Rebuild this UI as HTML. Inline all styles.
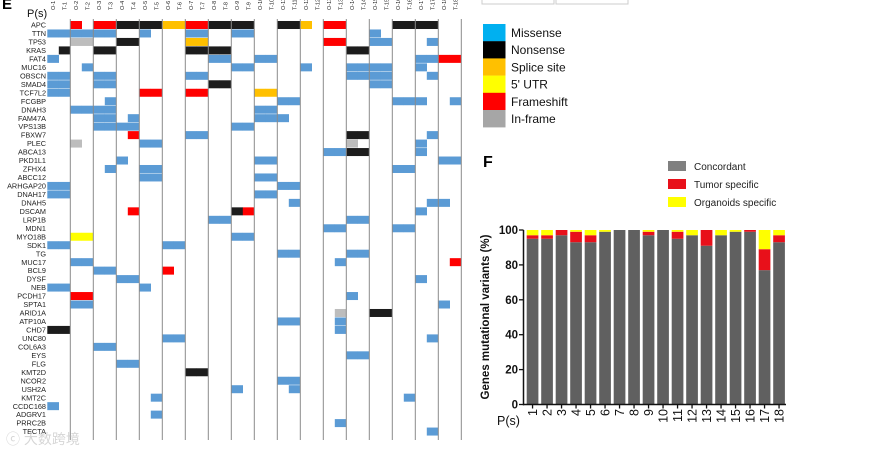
<!DOCTYPE html>
<html><head><meta charset="utf-8">
<style>
html,body{margin:0;padding:0;background:#fff;}
svg{display:block;font-family:"Liberation Sans",Arial,sans-serif;}
</style></head>
<body>
<svg id="fig" width="882" height="454" viewBox="0 0 882 454" xmlns="http://www.w3.org/2000/svg">
  <g id="panelE">
    <text x="2" y="9" font-size="15" font-weight="bold">E</text>
    <text x="27" y="17" font-size="11" fill="#111">P(s)</text>
  </g>
  <g id="legendE">
    <rect x="482" y="-1" width="72" height="5" fill="none" stroke="#ccc"/>
    <rect x="556" y="-1" width="72" height="5" fill="none" stroke="#ccc"/>
  </g>
  <g id="panelF">
    <text x="483" y="167" font-size="16" font-weight="bold">F</text>
  </g>
  <text x="6" y="444" font-size="14" fill="#bbb" opacity="0.6" font-family="'Liberation Sans','Noto Sans CJK SC',sans-serif">ⓒ 大数跨境</text>
</svg>
<script>
// ---------- Panel E data ----------
const genes = ["APC","TTN","TP53","KRAS","FAT4","MUC16","OBSCN","SMAD4","TCF7L2","FCGBP","DNAH3","FAM47A","VPS13B","FBXW7","PLEC","ABCA13","PKD1L1","ZFHX4","ABCC12","ARHGAP20","DNAH17","DNAH5","DSCAM","LRP1B","MDN1","MYO18B","SDK1","TG","MUC17","BCL9","DYSF","NEB","PCDH17","SPTA1","ARID1A","ATP10A","CHD7","UNC80","COL6A3","EYS","FLG","KMT2D","NCOR2","USH2A","KMT2C","CCDC168","ADGRV1","PRRC2B","TECTA"];
const sampleNums = [1,2,3,4,5,6,7,8,9,10,11,12,13,14,15,16,17,18];
// Mutations per gene: code + column range (column = 2*(sample-1) for O, +1 for T)
const mutations = [
"F2 F4-5 N6-9 S10-11 F12-13 N14-17 N20-21 S22 F24-25 N30-33",
"M0-5 M8 M12-13 M16-17 M28",
"I2-3 N6-7 S12-13 F24-25 M28-29 M33",
"N1 N4-5 N12-15 N26-27",
"M0 M14-15 M18-19 M32-33 F34-35",
"M3 M16-17 M22 M26-29 M32",
"M0-1 M4-5 M12-13 M26-29 M33",
"M0-1 M4-5 N14-15 M28-29",
"M0-1 F8-9 F12-13 S18-19",
"M5 M20-21 M30-32 M35",
"M2-5 M18-19",
"M4-5 M7 M18-20",
"M4-7 M16-17",
"F7 M12-13 N26-27 M33",
"I2 M8-9 I26 M32",
"M24-25 N26-27 M32",
"M6 M18-19 M34-35",
"M5 M8-9 M30-31",
"M8-9 M18-19",
"M0-1 M20-21",
"M0-1 M18-19",
"M21 M33-34",
"F7 N16 F17 M32",
"M14-15 M26-27",
"M24-25 M30-31",
"U2-3 M16-17",
"M0-1 M10-11",
"M20-21 M26-27",
"M2-3 M25 F35",
"M4-5 F10",
"M6-7 M32",
"M0-1 M8",
"F2-3 M26",
"M2-3 M34",
"I25 N28-29",
"M20-21 M25",
"N0-1 M25",
"M10-11 M33",
"M4-5",
"M26-27",
"M6-7",
"N12-13",
"M20-21",
"M16 M21",
"M9 M31",
"M0",
"M9",
"M25",
"M33"
];
const legendTypes = ["Missense","Nonsense","Splice site","5' UTR","Frameshift","In-frame"];
const legendCodes = ["M","N","S","U","F","I"];

// ---------- Panel F data ----------
const barCats = ["1","2","3","4","5","6","7","8","9","10","11","12","13","14","15","16","17","18"];
const concordant = [95,95,97,93,93,99,100,100,97,100,95,97,91,97,99,99,77,93];
const tumorSpec  = [2,2,3,6,4,0,0,0,2,0,4,0,9,0,0,1,12,4];
const organoidSpec=[3,3,0,1,3,1,0,0,1,0,1,3,0,3,1,0,11,3];
const yTicks = [0,20,40,60,80,100];
const seriesNames = ["Concordant","Tumor specific","Organoids specific"];

const NS="http://www.w3.org/2000/svg";
const svg=document.getElementById('fig');
function mk(tag,attrs,parent,text){const e=document.createElementNS(NS,tag);for(const k in attrs)e.setAttribute(k,attrs[k]);if(text!==undefined)e.textContent=text;(parent||svg).appendChild(e);return e;}

const heatColors={M:"#5b9bd5",N:"#1c1c1c",S:"#ffc000",U:"#ffff00",F:"#ff0000",I:"#bdbdbd"};
const legColors={M:"#00b0f0",N:"#000000",S:"#ffc000",U:"#ffff00",F:"#ff0000",I:"#a6a6a6"};

// Heatmap axes
const gx0=47.3, colW=11.5, rowY0=25, rowH=8.47;
const colX=c=>gx0+c*colW;
const rowY=r=>rowY0+r*rowH;
const nCols=sampleNums.length*2;
const gE=document.getElementById('panelE');

// cells
mutations.forEach((s,r)=>{
  s.split(" ").forEach(tok=>{
    const code=tok[0];const rng=tok.slice(1).split("-").map(Number);
    const a=rng[0],b=rng.length>1?rng[1]:rng[0];
    for(let c=a;c<=b;c++){
      const el=mk('rect',{x:colX(c),y:rowY(r)-4,width:colW+0.2,height:8,fill:heatColors[code]},gE);
      
      
    }
  });
});
// vertical pair separators
for(let p=1;p<=sampleNums.length;p++){
  const l=mk('line',{x1:colX(2*p),x2:colX(2*p),y1:19,y2:440,stroke:"#8a8a8a","stroke-width":1},gE);
  
  
}
// gene labels
genes.forEach((g,r)=>{
  const t=mk('text',{x:46,y:rowY(r)+2.6,"font-size":7.3,"text-anchor":"end",fill:"#222"},gE,g);
  
  
});
// column labels
sampleNums.forEach((n,i)=>{
  ["O","T"].forEach((p,j)=>{
    const cx=colX(2*i+j)+colW/2+2;
    const t=mk('text',{x:0,y:0,"font-size":5.5,fill:"#222",transform:`translate(${cx},10) rotate(-90)`},gE,p+"-"+n);
    
    
  });
});

// legend E
const gL=document.getElementById('legendE');
legendTypes.forEach((name,i)=>{
  const y=24+i*17.2;
  const r=mk('rect',{x:483,y:y,width:22.5,height:17.4,fill:legColors[legendCodes[i]]},gL);
  
  
  const t=mk('text',{x:511,y:y+13,"font-size":12,fill:"#111"},gL,name);
  
  
});

// ---------- Panel F ----------
const gF=document.getElementById('panelF');
const y0=404.5, yPer=1.745, bx0=526.7, bPitch=14.5, bW=11.7;
const yS=v=>y0-v*yPer;
const xS=i=>bx0+i*bPitch;
const segColors=["#606060","#e8101a","#ffff00"];
barCats.forEach((c,i)=>{
  let base=0;
  [concordant[i],tumorSpec[i],organoidSpec[i]].forEach((v,k)=>{
    if(v>0){
      const r=mk('rect',{x:xS(i),y:yS(base+v),width:bW,height:v*yPer,fill:segColors[k]},gF);
      
      
    }
    base+=v;
  });
  const tk=mk('line',{x1:xS(i)+bW/2,x2:xS(i)+bW/2,y1:y0,y2:y0+4,stroke:"#111","stroke-width":1.3},gF);
  
  
  const t=mk('text',{x:0,y:0,"font-size":12.5,"text-anchor":"end",fill:"#111",transform:`translate(${xS(i)+bW/2+4.5},409) rotate(-90)`},gF,c);
  
  
});
// axes
const ax=mk('line',{x1:523.5,x2:523.5,y1:yS(100),y2:y0+0.7,stroke:"#111","stroke-width":1.5},gF);


const xa=mk('line',{x1:523,x2:786,y1:y0,y2:y0,stroke:"#111","stroke-width":1.5},gF);


yTicks.forEach(v=>{
  const l=mk('line',{x1:519,x2:523.5,y1:yS(v),y2:yS(v),stroke:"#111","stroke-width":1.3},gF);
  
  
  const t=mk('text',{x:518,y:yS(v)+4,"font-size":11.5,"font-weight":"bold","text-anchor":"end",fill:"#111"},gF,String(v));
  
  
});
const yt=mk('text',{x:0,y:0,"font-size":11.5,"font-weight":"bold","text-anchor":"middle",fill:"#111",transform:"translate(489,317) rotate(-90)"},gF,"Genes mutational variants (%)");


const ps=mk('text',{x:497,y:425,"font-size":12.5,fill:"#111"},gF,"P(s)");


// legend F
seriesNames.forEach((n,i)=>{
  const y=161+i*18;
  const r=mk('rect',{x:668,y:y,width:18,height:10,fill:i===0?"#808080":segColors[i]},gF);
  
  
  const t=mk('text',{x:694,y:y+9,"font-size":10,fill:"#222"},gF,n);
  
  
});
</script>
</body></html>
